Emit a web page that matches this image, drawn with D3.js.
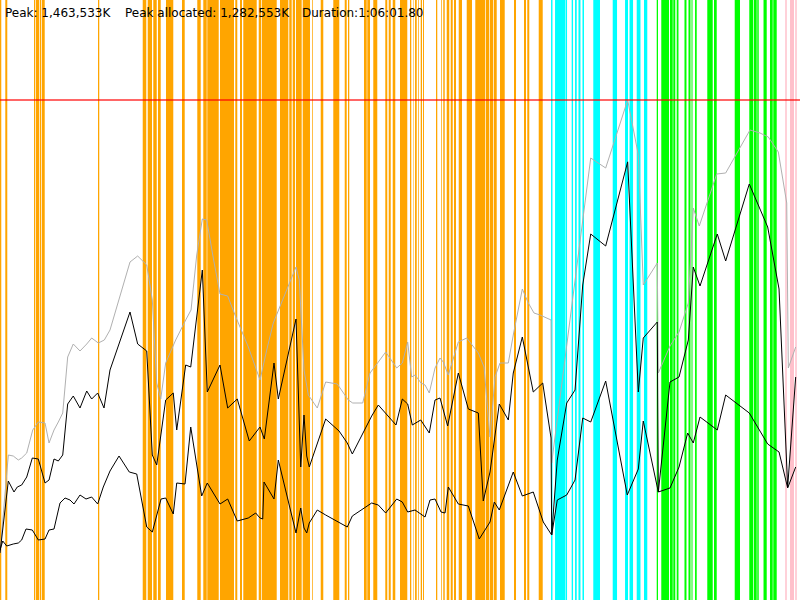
<!DOCTYPE html>
<html><head><meta charset="utf-8">
<script src="https://cdn.jsdelivr.net/npm/d3@7"></script>
<style>html,body{margin:0;padding:0;background:#fff;overflow:hidden}</style>
</head><body>
<svg id="chart" width="800" height="600"></svg>
<script>
// ---- data (time = % of run duration, memory = % of peak heap) ----
const PEAK_K = 1463533;
const PEAK_ALLOCATED_K = 1282553;
const DURATION = "1:06:01.80";

const orangeEvents = [[0,0.16],[0.66,0.91],[4.25,4.41],[4.5,4.91],[5.0,5.16],[5.25,5.59],[12.25,12.41],
[17.84,18.25],[18.34,18.41],[18.5,19.0],[19.16,19.59],[19.75,20.09],[20.75,21.66],[22.75,23.09],[24.66,25.09],
[25.41,25.84],[25.91,27.34],[27.5,29.25],[29.41,29.66],[30.0,30.25],[30.41,32.09],[32.34,32.66],[32.75,34.59],
[35.0,36.04],[36.16,36.46],[36.59,36.88],[37.0,37.71],[37.84,38.75],[39.0,39.09],[40.09,40.41],[41.66,42.41],
[43.09,43.34],[43.5,43.66],[45.5,45.84],[45.91,46.25],[46.66,47.16],[48.16,48.41],[48.59,48.84],[49.09,49.41],
[50.0,50.91],[51.25,51.41],[51.63,51.69],
[51.88,52.09],[52.25,52.34],[52.59,52.75],[52.88,53.0],[54.5,54.66],[55.16,55.25],[55.41,55.59],[55.84,56.16],
[56.34,56.59],[56.75,57.0],[57.34,57.75],[58.34,59.0],[59.41,60.66],[60.75,61.16],[61.25,61.66],[61.75,62.09],
[62.5,63.09],[64.25,64.5],[65.5,65.75],[65.91,66.16],[67.34,67.84]];
const cyanEvents = [[68.88,69.06],[69.38,70.69],[70.75,70.88],[71.46,71.63],[71.88,72.09],[72.31,72.56],[72.81,73.0],
[74.16,75.0],[76.59,77.13],[78.13,78.5],[78.69,79.13],[79.59,80.06],[80.5,80.91]];
const greenEvents = [[82.09,82.25],[82.66,83.63],[83.75,84.09],[84.16,84.41],[84.59,84.81],[85.56,85.81],[86.06,86.31],
[86.44,86.56],[86.88,87.09],[88.41,89.09],[89.25,89.59],[91.84,92.5],[93.66,94.16],[94.25,94.59],[94.66,94.84],
[95.44,95.84],[96.25,96.59],[96.66,97.09]];
const pinkEvents = [[98.16,98.34],[98.75,99.25],[99.41,99.59]];

const heapSeries = [[0,9.4],[1.04,29.0],[1.66,28.8],[2.29,28.0],[2.71,28.4],[3.34,29.4],[4.09,34.0],[4.79,35.6],
[5.63,35.4],[6.13,31.4],[6.75,34.0],[7.29,35.6],[7.84,37.4],[8.46,48.6],[9.16,51.2],[10.0,49.8],[10.84,51.2],
[11.46,52.4],[12.29,51.4],[13.04,52.0],[13.75,54.0],[16.25,67.6],[17.21,68.8],[18.34,67.0],[19.04,60.0],
[19.59,43.4],[20.09,40.2],[20.71,47.4],[21.96,52.0],[23.21,56.0],[23.88,58.0],[24.59,69.0],[25.29,76.2],
[25.84,76.0],[26.66,68.4],[27.5,61.2],[28.46,60.8],[29.38,57.0],[31.04,50.6],[32.5,44.0],[33.34,50.0],
[34.16,55.4],[37.0,66.6],[37.41,64.0],[38.0,46.0],[38.54,41.0],[39.66,38.4],[40.71,43.6],[42.16,43.2],
[43.54,40.0],[44.09,39.4],[45.34,39.4],[46.25,45.4],[47.29,47.6],[48.21,49.6],[49.59,46.4],[50.29,47.4],
[50.96,51.6],[51.46,44.6],[51.88,45.0],[52.63,43.4],[53.13,43.0],[53.66,41.4],[54.38,46.4],[55.0,48.4],
[55.41,47.6],[56.04,45.0],[57.29,51.6],[58.34,52.4],[59.79,49.4],[60.5,46.6],[61.25,32.6],[61.88,44.6],
[62.5,47.4],[63.54,47.4],[64.16,53.0],[65.29,62.2],[66.04,59.4],[66.75,57.4],[67.5,57.0],[68.88,56.0],
[68.96,27.4],[73.84,88.4],[75.71,86.4],[78.46,100.0],[79.79,89.0],[80.41,63.0],[82.16,67.4],[82.29,45.4],
[83.75,50.8],[84.88,53.6],[86.04,59.4],[86.66,78.4],[87.41,74.8],[89.59,85.2],[90.71,85.4],[93.75,94.0],
[95.0,93.4],[96.04,92.6],[97.29,89.6],[98.34,79.4],[98.54,46.4],[99.46,50.6]];

const allocatedSeries = [[0,9.4],[1.04,23.8],[1.75,21.6],[2.16,22.6],[2.71,23.0],[3.34,24.6],[4.04,28.4],[4.79,28.2],
[5.63,23.4],[6.13,24.0],[6.75,28.2],[7.29,27.8],[7.84,29.0],[8.46,39.2],[9.16,40.8],[10.0,38.4],[10.84,41.8],
[11.46,40.2],[12.21,41.4],[13.0,38.4],[13.75,46.0],[16.25,57.6],[17.21,51.2],[18.34,49.8],[19.04,29.0],
[19.59,27.0],[20.71,40.0],[21.66,41.4],[22.09,34.0],[23.21,47.0],[23.84,46.6],[25.29,66.0],[25.91,41.6],
[27.5,47.0],[28.46,38.4],[29.66,40.2],[31.16,31.8],[32.5,34.6],[33.04,32.2],[34.25,47.4],[34.79,40.2],
[37.0,56.2],[37.59,26.6],[38.0,37.0],[38.34,28.8],[38.66,26.6],[40.71,36.2],[42.38,33.8],[43.41,31.4],
[44.04,29.2],[46.46,36.8],[47.29,39.0],[49.5,35.0],[50.29,40.2],[50.96,39.2],[51.54,35.0],[52.59,36.0],
[53.66,33.4],[54.38,40.0],[55.0,40.4],[55.96,34.8],[57.29,45.4],[58.54,38.2],[59.79,37.4],[60.41,19.8],
[61.25,25.6],[62.41,39.2],[63.54,36.0],[64.16,45.4],[65.29,52.6],[66.66,41.6],[67.84,43.4],[68.88,32.4],
[68.96,13.0],[69.66,28.0],[70.84,39.4],[71.88,42.0],[72.84,63.0],[73.84,73.2],[75.71,70.8],[78.46,87.63],
[79.79,41.6],[80.41,52.4],[82.16,55.6],[82.29,21.6],[83.75,43.6],[84.88,44.6],[86.04,52.0],[86.66,66.6],
[87.5,62.8],[89.66,73.2],[90.71,67.8],[93.66,83.2],[95.96,74.6],[97.38,62.2],[98.46,22.6],[99.46,44.6]];

const liveSeries = [[0,10.0],[0.34,11.8],[0.84,10.8],[1.66,11.2],[2.29,11.4],[2.71,12.0],[3.25,14.2],[4.04,14.0],
[4.79,12.0],[5.63,12.2],[6.13,14.0],[6.75,14.2],[7.5,19.4],[8.13,20.4],[8.75,20.0],[9.25,19.2],[10.0,21.0],
[10.75,20.2],[11.46,20.6],[12.21,19.2],[12.91,22.6],[13.75,25.8],[14.88,28.8],[16.16,25.6],[17.09,25.2],
[18.34,14.6],[19.04,13.6],[20.13,20.2],[20.71,20.4],[21.66,17.2],[22.09,23.4],[23.13,23.2],[23.84,34.6],
[25.21,20.8],[25.91,23.4],[27.5,19.2],[28.46,20.2],[29.66,15.8],[31.04,16.4],[31.96,17.4],[32.5,16.4],
[32.84,16.2],[33.0,23.6],[34.25,20.2],[34.79,28.0],[37.0,13.4],[37.59,18.4],[38.0,14.4],[38.34,13.4],
[38.66,15.4],[39.66,18.0],[40.71,17.0],[43.41,14.6],[44.04,16.8],[46.46,19.4],[47.29,19.0],[48.21,17.4],
[49.59,20.2],[50.29,19.6],[50.96,17.6],[51.88,18.0],[53.13,16.6],[53.75,20.0],[54.38,20.2],[55.13,17.6],
[55.63,17.4],[56.04,22.6],[57.29,19.2],[58.54,18.8],[59.91,12.2],[61.25,15.6],[61.79,19.6],[62.41,18.0],
[64.16,25.6],[65.29,20.8],[66.66,21.6],[67.91,15.6],[68.96,13.0],[69.66,20.0],[70.84,21.0],[71.88,24.0],
[72.84,36.4],[73.84,35.6],[75.71,43.8],[78.41,21.0],[79.79,26.2],[80.41,35.8],[82.29,21.6],[83.75,22.4],
[84.88,26.6],[85.96,33.4],[86.66,31.4],[87.5,36.6],[89.66,34.0],[90.71,41.0],[93.66,37.4],[95.96,31.2],
[97.38,29.6],[98.46,22.4],[99.46,26.6]];

// ---- drawing ----
const W = 800, H = 600;
const svg = d3.select("#chart");
const x = d3.scaleLinear().domain([0, 100]).range([0, W]);
const y = d3.scaleLinear().domain([0, 120]).range([H, 0]);

svg.append("rect").attr("width", W).attr("height", H).attr("fill", "#fff");

const eventGroups = [
  {data: orangeEvents, color: "#ffa500"},
  {data: cyanEvents, color: "#00ffff"},
  {data: greenEvents, color: "#00ff00"},
  {data: pinkEvents, color: "#ffc0cb"}
];
eventGroups.forEach(g => {
  svg.append("g").selectAll("rect").data(g.data).join("rect")
    .attr("x", d => x(d[0]))
    .attr("width", d => Math.max(0.5, x(d[1]) - x(d[0])))
    .attr("y", y(120)).attr("height", y(0) - y(120))
    .attr("fill", g.color);
});

const line = d3.line().x(d => x(d[0])).y(d => y(d[1]));
svg.append("path").datum(heapSeries).attr("d", line)
  .attr("fill", "none").attr("stroke", "#b0b0b0").attr("stroke-width", 1);
svg.append("path").datum(allocatedSeries).attr("d", line)
  .attr("fill", "none").attr("stroke", "#000").attr("stroke-width", 1);
svg.append("path").datum(liveSeries).attr("d", line)
  .attr("fill", "none").attr("stroke", "#000").attr("stroke-width", 1);

// peak marker line
svg.append("line").attr("x1", x(0)).attr("x2", x(100))
  .attr("y1", y(100)).attr("y2", y(100))
  .attr("stroke", "#ff0000").attr("stroke-opacity", 0.6).attr("stroke-width", 2);

const fmt = d3.format(",");
const labels = [
  {text: "Peak: " + fmt(PEAK_K) + "K", x: 5},
  {text: "Peak allocated: " + fmt(PEAK_ALLOCATED_K) + "K", x: 125},
  {text: "Duration:" + DURATION, x: 302}
];
svg.append("g").selectAll("text").data(labels).join("text")
  .attr("x", d => d.x).attr("y", 17)
  .attr("font-family", "DejaVu Sans, sans-serif").attr("font-size", 12)
  .attr("fill", "#000").text(d => d.text);
</script>
</body></html>
